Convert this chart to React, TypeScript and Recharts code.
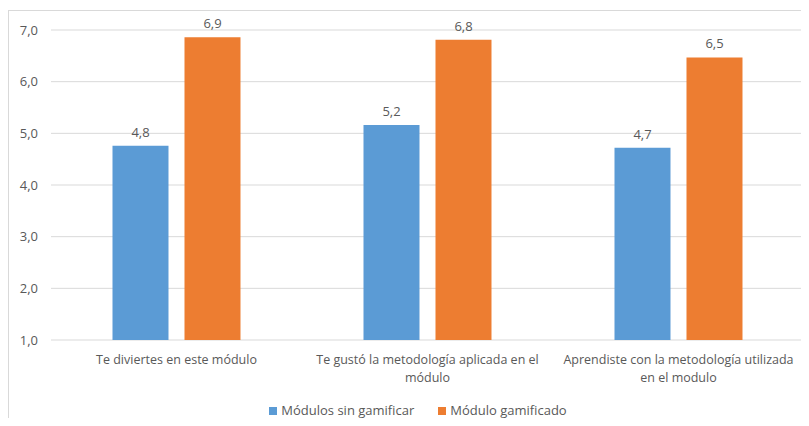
import React from "react";
import {
	BarChart,
	Bar,
	XAxis,
	YAxis,
	CartesianGrid,
	Legend,
	LabelList,
} from "recharts";

const categories = [
	"Te diviertes en este módulo",
	"Te gustó la metodología aplicada en el módulo",
	"Aprendiste con la metodología utilizada en el modulo",
];
// how each category label wraps under its group
const categoryLines = [
	["Te diviertes en este módulo"],
	["Te gustó la metodología aplicada en el", "módulo"],
	["Aprendiste con la metodología utilizada", "en el modulo"],
];
const sinGamificar = [4.76, 5.16, 4.72];
const gamificado = [6.86, 6.81, 6.47];
const yTicks = [1, 2, 3, 4, 5, 6, 7];

const data = categories.map((name, i) => ({
	name,
	sinGamificar: sinGamificar[i],
	gamificado: gamificado[i],
}));

const FONT = "'Open Sans', sans-serif";
const TEXT = "#595959";

const fmt = (v: number) => v.toFixed(1).replace(".", ",");

function CategoryTick({ x, y, index }: any) {
	const lines = categoryLines[index] || [];
	return (
		<text
			x={x}
			y={y + 16}
			textAnchor="middle"
			fill={TEXT}
			fontSize={12.5}
			fontFamily={FONT}
		>
			{lines.map((line, i) => (
				<tspan key={i} x={x} dy={i === 0 ? 0 : 18}>
					{line}
				</tspan>
			))}
		</text>
	);
}

export default function App() {
	return (
		<div
			style={{
				position: "relative",
				width: 809,
				height: 426,
				margin: -8,
				overflow: "hidden",
				background: "#fff",
				fontFamily: FONT,
			}}
		>
			<div
				style={{
					position: "absolute",
					left: 8,
					top: 10,
					width: 900,
					height: 500,
					border: "1px solid #d9d9d9",
					pointerEvents: "none",
				}}
			/>
			<BarChart
				width={809}
				height={426}
				data={data}
				margin={{ top: 30, right: 5, left: 0, bottom: 0 }}
				barGap={16}
				barCategoryGap="24.5%"
			>
				<CartesianGrid vertical={false} stroke="#d9d9d9" />
				<XAxis
					dataKey="name"
					axisLine={false}
					tickLine={false}
					interval={0}
					height={56}
					tick={(props: any) => <CategoryTick {...props} />}
				/>
				<YAxis
					domain={[1, 7]}
					ticks={yTicks}
					width={51}
					axisLine={false}
					tickLine={false}
					tickMargin={7}
					tickFormatter={fmt}
					tick={{ fill: TEXT, fontSize: 13, fontFamily: FONT }}
				/>
				<Legend
					verticalAlign="bottom"
					height={30}
					iconType="square"
					iconSize={8}
					itemSorter={null as any}
					wrapperStyle={{ bottom: -2, left: 21 }}
					formatter={(value) => (
						<span
							style={{
								color: TEXT,
								fontSize: 13,
								fontFamily: FONT,
								marginRight: value === "Módulos sin gamificar" ? 14 : 0,
							}}
						>
							{value}
						</span>
					)}
				/>
				<Bar
					dataKey="sinGamificar"
					name="Módulos sin gamificar"
					fill="#5B9BD5"
					isAnimationActive={false}
				>
					<LabelList
						dataKey="sinGamificar"
						position="top"
						offset={9}
						formatter={(v: any) => fmt(Number(v))}
						style={{ fill: TEXT, fontSize: 13, fontFamily: FONT }}
					/>
				</Bar>
				<Bar
					dataKey="gamificado"
					name="Módulo gamificado"
					fill="#ED7D31"
					isAnimationActive={false}
				>
					<LabelList
						dataKey="gamificado"
						position="top"
						offset={9}
						formatter={(v: any) => fmt(Number(v))}
						style={{ fill: TEXT, fontSize: 13, fontFamily: FONT }}
					/>
				</Bar>
			</BarChart>
		</div>
	);
}
